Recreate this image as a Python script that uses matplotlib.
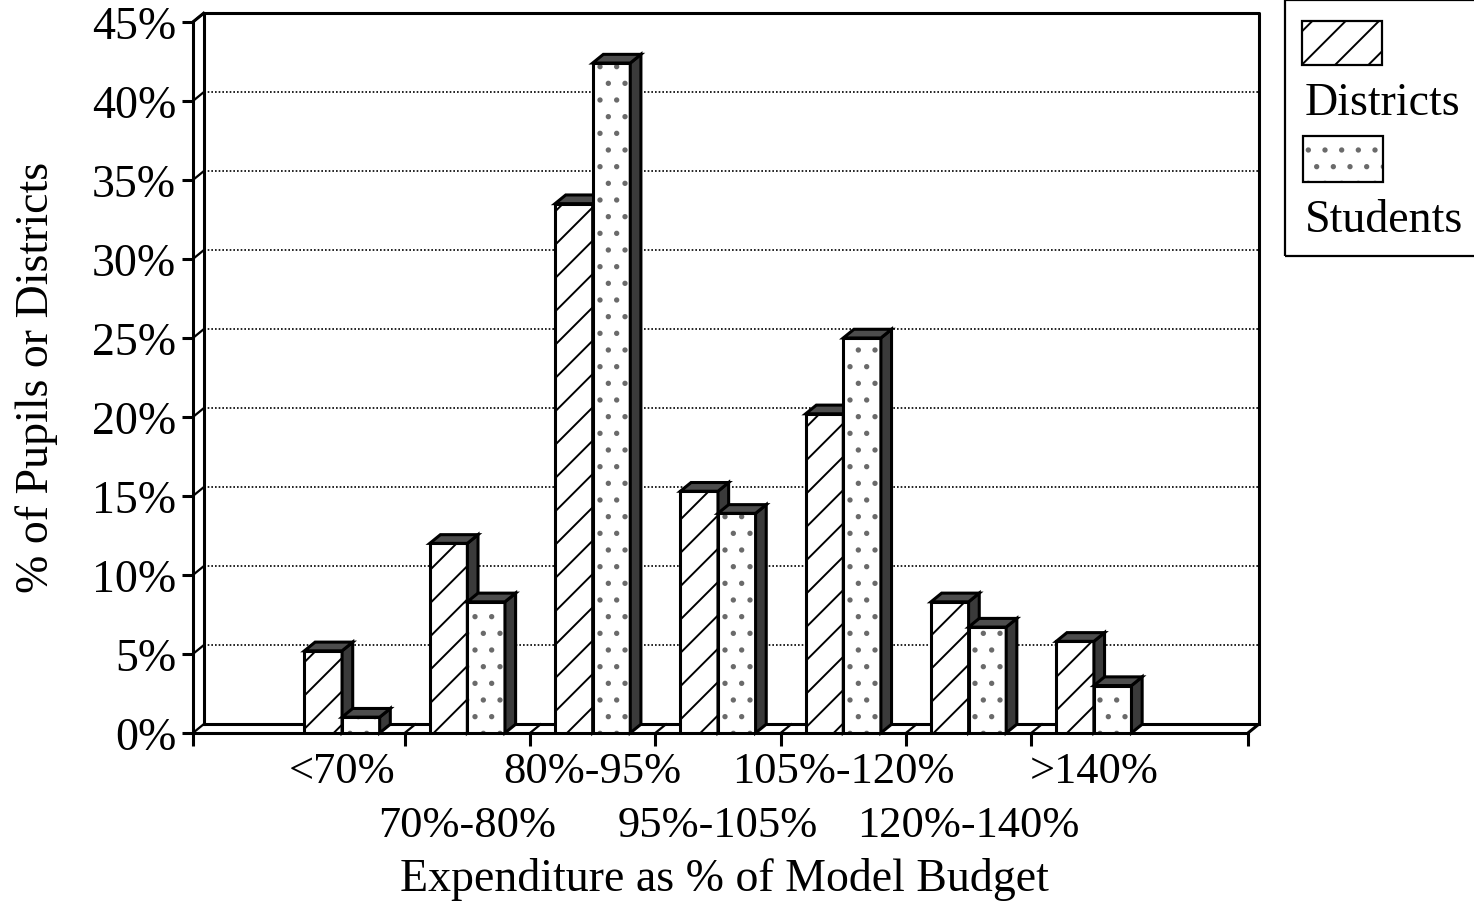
import matplotlib.pyplot as plt
from matplotlib.patches import Polygon, Rectangle

plt.rcParams['font.family'] = ['Liberation Serif', 'DejaVu Serif']
plt.rcParams['hatch.linewidth'] = 1.4

categories = ["<70%", "70%-80%", "80%-95%", "95%-105%", "105%-120%", "120%-140%", ">140%"]
districts = [5.2, 12.0, 33.5, 15.3, 20.2, 8.3, 5.8]
students = [1.0, 8.3, 42.4, 13.9, 25.0, 6.7, 3.0]
yticks = [0, 5, 10, 15, 20, 25, 30, 35, 40, 45]
ytick_labels = [f"{v}%" for v in yticks]

fig = plt.figure(figsize=(14.74, 9.04), dpi=100)
ax = fig.add_axes([0.1309, 0.1881, 0.7158, 0.7865])
xmin, xmax = -1.19, 7.23
ax.set_xlim(xmin, xmax)
ax.set_ylim(0, 45)

# depth of the pseudo-3d box and bars
dx, dy = 0.085, 0.55
lw = 2.2

for s in ['top', 'right']:
    ax.spines[s].set_visible(False)
for s in ['left', 'bottom']:
    ax.spines[s].set_linewidth(lw)

# back wall, floor and side edges
ax.plot([xmin + dx, xmin + dx, xmax + dx, xmax + dx], [dy, 45 + dy, 45 + dy, dy],
        color='black', lw=lw, clip_on=False, zorder=1)
ax.plot([xmin + dx, xmax + dx], [dy, dy], color='black', lw=lw, clip_on=False, zorder=1)
ax.plot([xmax, xmax + dx], [0, dy], color='black', lw=lw, clip_on=False, zorder=1)
ax.plot([xmin, xmin + dx], [45, 45 + dy], color='black', lw=lw, clip_on=False, zorder=1)

# dotted gridlines on the back wall, small diagonals on the side wall
for v in yticks:
    ax.plot([xmin, xmin + dx], [v, v + dy], color='black', lw=1.6, clip_on=False, zorder=1)
    if 0 < v < 45:
        ax.plot([xmin + dx, xmax + dx], [v + dy, v + dy], color='black', lw=1.2,
                ls=(0, (1, 1.2)), clip_on=False, zorder=1)

bounds = [i + 0.5 for i in range(len(categories) - 1)]
for b in bounds:
    ax.plot([b, b + dx], [0, dy], color='black', lw=1.6, zorder=1)

w = 0.30


def draw_bar(x0, v, hatch, hatch_color, z):
    # front face: hatch pattern first, then the black outline on top
    ax.bar(x0, v, width=w, align='edge', facecolor='white', edgecolor=hatch_color,
           hatch=hatch, lw=0, zorder=z)
    ax.bar(x0, v, width=w, align='edge', fill=False, edgecolor='black', lw=lw, zorder=z)
    side = Polygon([(x0 + w, 0), (x0 + w + dx, dy), (x0 + w + dx, v + dy), (x0 + w, v)],
                   closed=True, fc='#3a3a3a', ec='black', lw=lw, zorder=z, clip_on=False)
    top = Polygon([(x0, v), (x0 + dx, v + dy), (x0 + w + dx, v + dy), (x0 + w, v)],
                  closed=True, fc='#4d4d4d', ec='black', lw=lw, zorder=z, clip_on=False)
    ax.add_patch(side)
    ax.add_patch(top)


z = 3
for i in range(len(categories)):
    draw_bar(i - w, districts[i], '/', 'black', z)
    draw_bar(i, students[i], '.', '#6a6a6a', z + 1)
    z += 2

# axis ticks
ax.set_yticks(yticks)
ax.set_yticklabels(ytick_labels, fontsize=33)
ax.tick_params(axis='y', direction='out', length=8, width=lw, pad=4)

ax.set_xticks([xmin] + bounds + [xmax])
ax.set_xticklabels([])
ax.tick_params(axis='x', which='major', direction='out', length=9.5, width=lw)

# category labels on two staggered rows
xlab_tf = ax.get_xaxis_transform()
for i, c in enumerate(categories):
    ypos = -0.053 if i % 2 == 0 else -0.129
    ax.text(i, ypos, c, transform=xlab_tf, fontsize=32, ha='center', va='center')

fig.text(0.4912, 0.027, "Expenditure as % of Model Budget", fontsize=33,
         ha='center', va='center')
fig.text(0.0250, 0.582, "% of Pupils or Districts", fontsize=33,
         rotation=90, ha='center', va='center')

# legend box
fig.patches.append(Rectangle((0.8718, 0.7157), 0.2, 0.2828, transform=fig.transFigure,
                             fill=False, ec='black', lw=1.6, clip_on=False))
fig.patches.append(Rectangle((0.8833, 0.927), 0.0543, 0.0487, transform=fig.transFigure,
                             fc='white', ec='black', hatch='/', lw=1.6))
fig.patches.append(Rectangle((0.8840, 0.7976), 0.0543, 0.0509, transform=fig.transFigure,
                             fc='white', ec='#6a6a6a', hatch='.', lw=0))
fig.patches.append(Rectangle((0.8840, 0.7976), 0.0543, 0.0509, transform=fig.transFigure,
                             fill=False, ec='black', lw=1.6))
fig.text(0.8853, 0.8728, "Districts", fontsize=33, ha='left', va='baseline')
fig.text(0.8853, 0.7434, "Students", fontsize=33, ha='left', va='baseline')

fig.savefig("out.png", dpi=100)
